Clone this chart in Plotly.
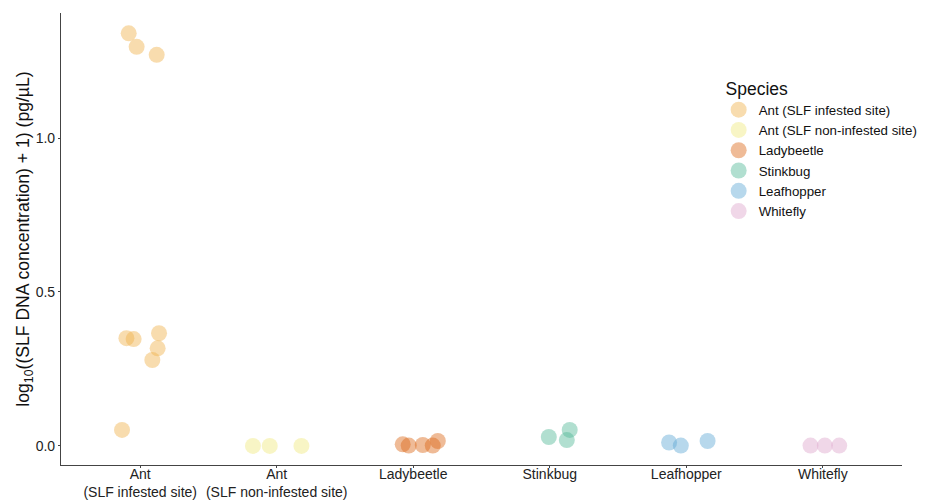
import plotly.graph_objects as go

categories = ["Ant<br>(SLF infested site)", "Ant<br>(SLF non-infested site)", "Ladybeetle",
              "Stinkbug", "Leafhopper", "Whitefly"]
species = ["Ant (SLF infested site)", "Ant (SLF non-infested site)", "Ladybeetle",
           "Stinkbug", "Leafhopper", "Whitefly"]
colors = ["#EFB14B", "#EFE97F", "#DB6919", "#51B997", "#5FA9D5", "#DDA7CD"]

ant_inf_vals = [1.340, 1.296, 1.270, 0.350, 0.347, 0.366, 0.317, 0.279, 0.052]
ant_inf_jit = [-0.084, -0.026, 0.121, -0.101, -0.048, 0.138, 0.128, 0.089, -0.133]
ant_non_vals = [0.0, 0.0, 0.0]
ant_non_jit = [-0.174, -0.051, 0.181]
lady_vals = [0.005, 0.001, 0.003, 0.001, 0.016]
lady_jit = [-0.077, -0.033, 0.07, 0.143, 0.18]
stink_vals = [0.029, 0.019, 0.052]
stink_jit = [-0.007, 0.125, 0.146]
leaf_vals = [0.011, 0.001, 0.016]
leaf_jit = [-0.126, -0.04, 0.156]
white_vals = [0.001, 0.001, 0.001]
white_jit = [-0.09, 0.015, 0.12]

values = [ant_inf_vals, ant_non_vals, lady_vals, stink_vals, leaf_vals, white_vals]
jitters = [ant_inf_jit, ant_non_jit, lady_jit, stink_jit, leaf_jit, white_jit]

FONT = "Liberation Sans, Arial, sans-serif"

fig = go.Figure()
for i, (name, col, vals, jit) in enumerate(zip(species, colors, values, jitters)):
    fig.add_trace(go.Scatter(
        x=[i + j for j in jit], y=vals, mode="markers", name=name,
        marker=dict(size=16, color=col, opacity=0.45, line=dict(width=0)),
    ))

fig.update_layout(
    width=930, height=501,
    margin=dict(l=61, r=28, t=13, b=36, autoexpand=False),
    paper_bgcolor="white", plot_bgcolor="white",
    font=dict(family=FONT, color="#222222"),
    legend=dict(
        title=dict(text="&nbsp;Species", font=dict(size=17.5, color="#111111")),
        x=0.782, y=0.87, xanchor="left", yanchor="top",
        font=dict(size=13.3, color="#111111"),
        tracegroupgap=0, itemsizing="trace", itemwidth=30,
        bgcolor="rgba(0,0,0,0)",
    ),
    showlegend=True,
)
fig.update_xaxes(
    range=[-0.58, 5.58], tickvals=list(range(6)), ticktext=categories,
    showline=True, linecolor="#444444", linewidth=1.2, showgrid=False, zeroline=False,
    ticks="outside", ticklen=2, tickcolor="#444444", automargin=False,
    ticklabelstandoff=-6,
    tickfont=dict(size=14, color="#222222"),
)
fig.update_yaxes(
    range=[-0.062, 1.406], tickvals=[0, 0.5, 1.0], ticktext=["0.0", "0.5", "1.0"],
    showline=True, linecolor="#444444", linewidth=1.2, showgrid=False, zeroline=False,
    ticks="outside", ticklen=2, tickcolor="#444444", automargin=False,
    tickfont=dict(size=14, color="#222222"),
    title=dict(text="log<sub>10</sub>((SLF DNA concentration) + 1) (pg/µL)",
               font=dict(size=17.6, color="#111111"), standoff=0),
)

fig.write_html("out.html")
